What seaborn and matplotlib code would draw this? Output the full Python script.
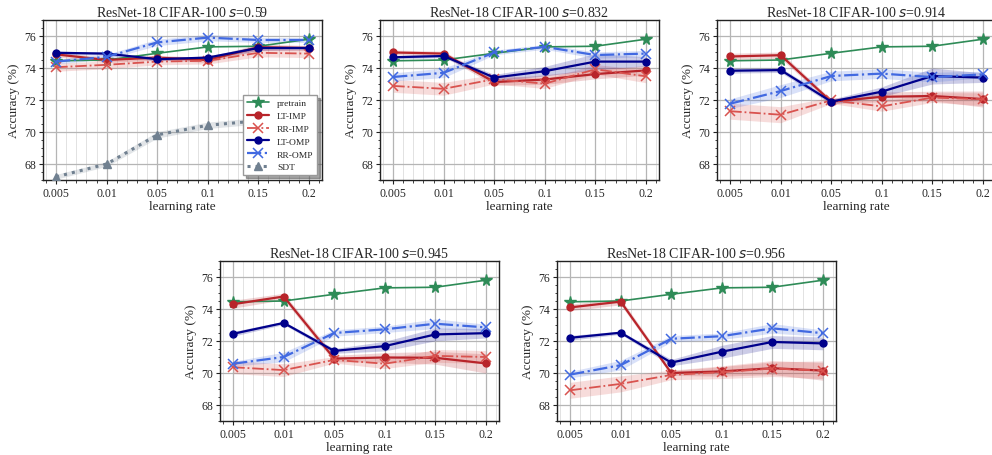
import numpy as np
import pandas as pd
import matplotlib
matplotlib.use("Agg")
import matplotlib.pyplot as plt
from matplotlib.ticker import AutoMinorLocator, MultipleLocator
import seaborn as sns

# learning rates (categorical x axis)
learning_rates = ["0.005", "0.01", "0.05", "0.1", "0.15", "0.2"]
sparsities = ["0.59", "0.832", "0.914", "0.945", "0.956"]

# dense pretrained accuracy (same in every panel)
pretrain = [74.45, 74.5, 74.92, 75.32, 75.36, 75.8]

# mean accuracy per sparsity level
lt_imp = {
    "0.59":  [74.85, 74.5, 74.65, 74.5, 75.3, 75.25],
    "0.832": [74.97, 74.9, 73.12, 73.28, 73.62, 73.85],
    "0.914": [74.72, 74.8, 71.9, 72.2, 72.25, 72.06],
    "0.945": [74.3, 74.78, 70.9, 70.97, 70.95, 70.6],
    "0.956": [74.1, 74.46, 70.0, 70.1, 70.3, 70.15],
}
rr_imp = {
    "0.59":  [74.05, 74.2, 74.4, 74.45, 74.95, 74.9],
    "0.832": [72.88, 72.7, 73.3, 73.02, 73.92, 73.48],
    "0.914": [71.3, 71.08, 71.98, 71.6, 72.15, 72.05],
    "0.945": [70.36, 70.18, 70.82, 70.58, 71.07, 71.0],
    "0.956": [68.92, 69.32, 69.88, 70.05, 70.28, 70.15],
}
lt_omp = {
    "0.59":  [74.95, 74.9, 74.55, 74.65, 75.25, 75.25],
    "0.832": [74.67, 74.75, 73.4, 73.8, 74.4, 74.4],
    "0.914": [73.83, 73.87, 71.9, 72.52, 73.5, 73.4],
    "0.945": [72.45, 73.13, 71.38, 71.68, 72.41, 72.49],
    "0.956": [72.2, 72.52, 70.65, 71.33, 71.94, 71.85],
}
rr_omp = {
    "0.59":  [74.4, 74.7, 75.6, 75.9, 75.75, 75.75],
    "0.832": [73.44, 73.7, 74.97, 75.32, 74.81, 74.9],
    "0.914": [71.77, 72.56, 73.5, 73.65, 73.43, 73.6],
    "0.945": [70.58, 71.0, 72.5, 72.73, 73.08, 72.85],
    "0.956": [69.9, 70.49, 72.14, 72.3, 72.79, 72.49],
}
sdt = [67.2, 68.0, 69.82, 70.42, 70.7, 70.9]

# half-width of the shaded spread around each curve
lt_imp_spread = {
    "0.59":  [0.15, 0.15, 0.15, 0.15, 0.2, 0.15],
    "0.832": [0.15, 0.15, 0.2, 0.3, 0.3, 0.3],
    "0.914": [0.2, 0.2, 0.15, 0.3, 0.3, 0.5],
    "0.945": [0.25, 0.2, 0.2, 0.3, 0.4, 0.6],
    "0.956": [0.2, 0.2, 0.15, 0.3, 0.4, 0.6],
}
rr_imp_spread = {
    "0.59":  [0.25, 0.25, 0.2, 0.2, 0.25, 0.25],
    "0.832": [0.4, 0.4, 0.3, 0.3, 0.3, 0.4],
    "0.914": [0.5, 0.5, 0.2, 0.3, 0.3, 0.4],
    "0.945": [0.4, 0.4, 0.2, 0.3, 0.4, 0.4],
    "0.956": [0.5, 0.5, 0.3, 0.4, 0.5, 0.5],
}
lt_omp_spread = {
    "0.59":  [0.1, 0.1, 0.1, 0.1, 0.15, 0.1],
    "0.832": [0.1, 0.1, 0.2, 0.3, 0.5, 0.3],
    "0.914": [0.15, 0.15, 0.15, 0.3, 0.5, 0.3],
    "0.945": [0.15, 0.1, 0.15, 0.3, 0.4, 0.3],
    "0.956": [0.15, 0.1, 0.2, 0.4, 0.4, 0.4],
}
rr_omp_spread = {
    "0.59":  [0.15, 0.15, 0.2, 0.2, 0.15, 0.15],
    "0.832": [0.25, 0.3, 0.15, 0.15, 0.2, 0.2],
    "0.914": [0.3, 0.4, 0.3, 0.3, 0.3, 0.2],
    "0.945": [0.15, 0.3, 0.2, 0.2, 0.3, 0.2],
    "0.956": [0.2, 0.3, 0.2, 0.2, 0.3, 0.2],
}
sdt_spread = [0.15, 0.15, 0.2, 0.2, 0.2, 0.2]

sns.set_theme(style="whitegrid")
plt.rcParams["font.family"] = ["Liberation Serif", "DejaVu Serif"]
plt.rcParams["mathtext.fontset"] = "dejavusans"

styles = {
    "pretrain": dict(color="#2e8b57", marker="*", ls="-", lw=1.2, ms=8.5),
    "LT-IMP": dict(color="#b8242a", marker="o", ls="-", lw=1.6, ms=5),
    "RR-IMP": dict(color="#d9534f", marker="x", ls="-.", lw=1.3, ms=7),
    "LT-OMP": dict(color="#00008b", marker="o", ls="-", lw=1.6, ms=5),
    "RR-OMP": dict(color="#4169e1", marker="x", ls="-.", lw=1.6, ms=7),
    "SDT": dict(color="#708090", marker="^", ls=":", lw=2.2, ms=6),
}

fig = plt.figure(figsize=(9.92, 4.56), dpi=100)
W, H = 992, 456
pw, ph = 279, 160
boxes = [(43, 21), (380, 21), (717, 21), (220, 262), (557, 262)]

x = np.arange(len(learning_rates))


def draw(ax, name, y, spread=None):
    st = styles[name]
    df = pd.DataFrame({"x": x, "y": y})
    sns.lineplot(data=df, x="x", y="y", ax=ax, color=st["color"],
                 marker=st["marker"], linestyle=st["ls"], linewidth=st["lw"],
                 markersize=st["ms"],
                 markeredgewidth=1.0 if st["marker"] != "x" else 1.1,
                 markeredgecolor=st["color"], label=name, zorder=3)
    if spread is not None:
        y = np.asarray(y)
        s = np.asarray(spread)
        ax.fill_between(x, y - s, y + s, color=st["color"], alpha=0.2,
                        linewidth=0, zorder=2)


for i, (sp, (left, top)) in enumerate(zip(sparsities, boxes)):
    ax = fig.add_axes([left / W, 1 - (top + ph) / H, pw / W, ph / H])
    draw(ax, "pretrain", pretrain)
    draw(ax, "LT-IMP", lt_imp[sp], lt_imp_spread[sp])
    draw(ax, "RR-IMP", rr_imp[sp], rr_imp_spread[sp])
    draw(ax, "LT-OMP", lt_omp[sp], lt_omp_spread[sp])
    draw(ax, "RR-OMP", rr_omp[sp], rr_omp_spread[sp])
    if i == 0:
        draw(ax, "SDT", sdt, sdt_spread)

    ax.set_xlim(-0.26, 5.26)
    ax.set_ylim(67, 77)
    ax.set_xticks(x)
    ax.set_xticklabels(learning_rates)
    ax.yaxis.set_major_locator(MultipleLocator(2))
    ax.yaxis.set_minor_locator(AutoMinorLocator(4))
    ax.xaxis.set_minor_locator(MultipleLocator(0.2))
    ax.grid(which="major", color="#b5b5b5", lw=0.9)
    ax.grid(which="minor", axis="x", color="#e2e2e2", lw=0.7)
    ax.grid(which="minor", axis="y", visible=False)
    for spn in ax.spines.values():
        spn.set_color("#222222")
        spn.set_linewidth(1.0)
    ax.tick_params(which="major", direction="out", length=3, width=0.8,
                   color="#222222", labelsize=8.5, pad=2,
                   bottom=True, left=True)
    ax.tick_params(which="minor", direction="out", length=1.8, width=0.6,
                   color="#222222", bottom=True, left=True)
    ax.set_xlabel("learning rate", fontsize=9.5, labelpad=1)
    ax.set_ylabel("Accuracy (%)", fontsize=9.5, labelpad=3)
    ax.set_title(f"ResNet-18 CIFAR-100 $s$={sp}", fontsize=10, pad=3)

    if i == 0:
        leg = ax.legend(loc="lower right", fontsize=6.8, frameon=True,
                        shadow=True, fancybox=False, borderaxespad=0.5,
                        handlelength=2.4, labelspacing=0.45)
        leg.get_frame().set_edgecolor("#999999")
    else:
        lg = ax.get_legend()
        if lg is not None:
            lg.remove()

fig.savefig("out.png", dpi=100)
